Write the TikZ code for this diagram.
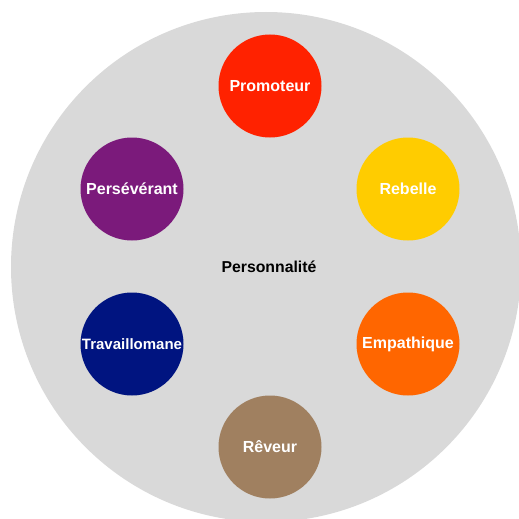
\documentclass[tikz,border=0pt]{standalone}
\usepackage{fontspec}
\setmainfont{Liberation Sans}
\usetikzlibrary{calc}

\definecolor{fond}{HTML}{D9D9D9}
\definecolor{promoteur}{HTML}{FF2200}
\definecolor{rebelle}{HTML}{FFCC00}
\definecolor{empathique}{HTML}{FF6600}
\definecolor{reveur}{HTML}{A08060}
\definecolor{travaillomane}{HTML}{001480}
\definecolor{perseverant}{HTML}{7B1A7B}

\begin{document}
\begin{tikzpicture}[x=1pt, y=-1pt,
base/.style={circle, fill=fond, minimum size=510pt, inner sep=0pt},
trait/.style={circle, minimum size=103pt, inner sep=0pt, text=white, font=\bfseries\fontsize{16}{18}\selectfont},
centre/.style={text=black, font=\bfseries\fontsize{15.8}{18}\selectfont}]

%%%%%% CADRE %%%%%%%%%%

\useasboundingbox (0,0) rectangle (519,519);

%%%%%% FOND %%%%%%%%%%

\node [base] (perso) at (266,267) {};
\node [centre] (titre) at (269,267) {Personnalité};

%%%%%% TYPES %%%%%%%%%%

\node [trait, fill=promoteur] (prom) at (270,86) {Promoteur};
\node [trait, fill=rebelle] (reb) at (408,189) {Rebelle};
\node [trait, fill=empathique] (emp) at (408,344) {Empathique};
\node [trait, fill=reveur] (rev) at (270,447) {Rêveur};
\node [trait, fill=travaillomane, font=\bfseries\fontsize{15}{18}\selectfont] (trav) at (132,344) {Travaillomane};
\node [trait, fill=perseverant] (pers) at (132,189) {Persévérant};

\end{tikzpicture}
\end{document}
